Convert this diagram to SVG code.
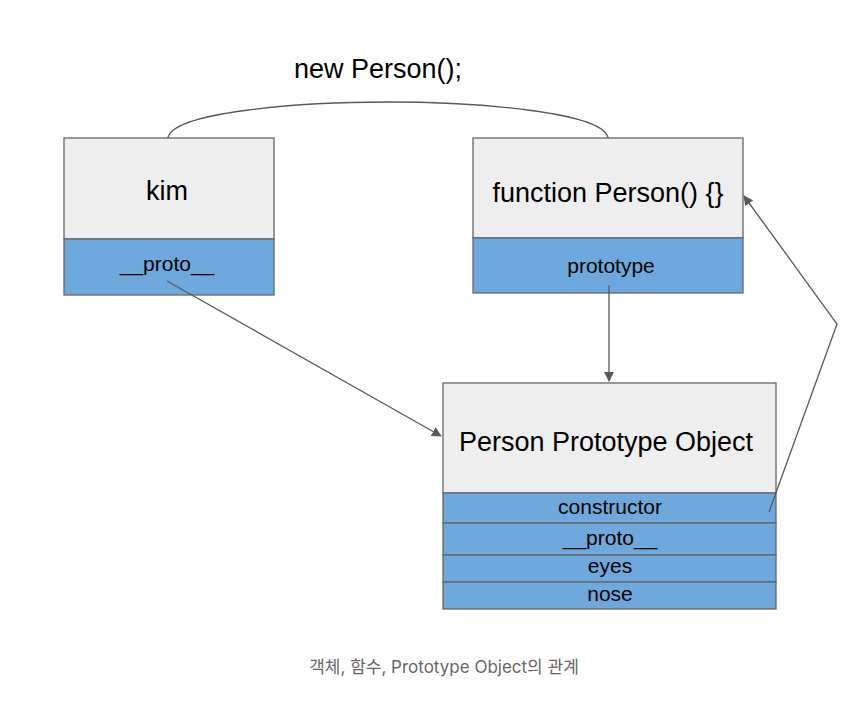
<svg xmlns="http://www.w3.org/2000/svg" width="864" height="720" viewBox="0 0 864 720">
<style>
.head{fill:#eeeeee;stroke:#666;stroke-width:1.3}
.field{fill:#6fa8dc;stroke:#666;stroke-width:1.3}
.t{font-family:Arial,"Liberation Sans",sans-serif;fill:#000;text-anchor:middle}
.c{fill:none;stroke:#595959;stroke-width:1.3}
</style>
<defs>
<marker id="ah" viewBox="0 0 10 10" refX="9" refY="5" markerWidth="10" markerHeight="10" markerUnits="userSpaceOnUse" orient="auto">
<path d="M0,0 L10,5 L0,10 z" fill="#595959"/>
</marker>
</defs>
<rect width="864" height="720" fill="#fff"/>
<text class="t" x="378" y="78" font-size="27">new Person();</text>
<g id="kim">
<rect class="head" x="64" y="138" width="210" height="101"/>
<rect class="field" x="64" y="239" width="210" height="56"/>
<text class="t" x="167" y="200" font-size="27">kim</text>
<text class="t" x="167" y="271" font-size="21">__proto__</text>
</g>
<g id="person-function">
<rect class="head" x="473" y="138" width="270" height="100"/>
<rect class="field" x="473" y="238" width="270" height="55"/>
<text class="t" x="608" y="202" font-size="27">function Person() {}</text>
<text class="t" x="611" y="273" font-size="21">prototype</text>
</g>
<g id="person-prototype">
<rect class="head" x="443" y="383" width="333" height="110"/>
<rect class="field" x="443" y="493" width="333" height="30"/>
<rect class="field" x="443" y="523" width="333" height="32"/>
<rect class="field" x="443" y="555" width="333" height="27"/>
<rect class="field" x="443" y="582" width="333" height="27"/>
<text class="t" x="606" y="451" font-size="27">Person Prototype Object</text>
<text class="t" x="610" y="514" font-size="21">constructor</text>
<text class="t" x="610" y="545" font-size="21">__proto__</text>
<text class="t" x="610" y="573" font-size="21">eyes</text>
<text class="t" x="610" y="601" font-size="21">nose</text>
</g>
<g id="connectors">
<path class="c" d="M168,138 C172,112 300,102 388,102 C476,102 604,112 608,138"/>
<line class="c" x1="167" y1="281" x2="441" y2="436" marker-end="url(#ah)"/>
<line class="c" x1="609" y1="285" x2="609" y2="381" marker-end="url(#ah)"/>
<polyline class="c" points="769,512 837,324 744,196" marker-end="url(#ah)"/>
</g>
<text x="444" y="673" font-size="17" text-anchor="middle" fill="#666" font-family="Inter,'Noto Sans','Noto Sans CJK KR',sans-serif">객체, 함수, Prototype Object의 관계</text>
</svg>
